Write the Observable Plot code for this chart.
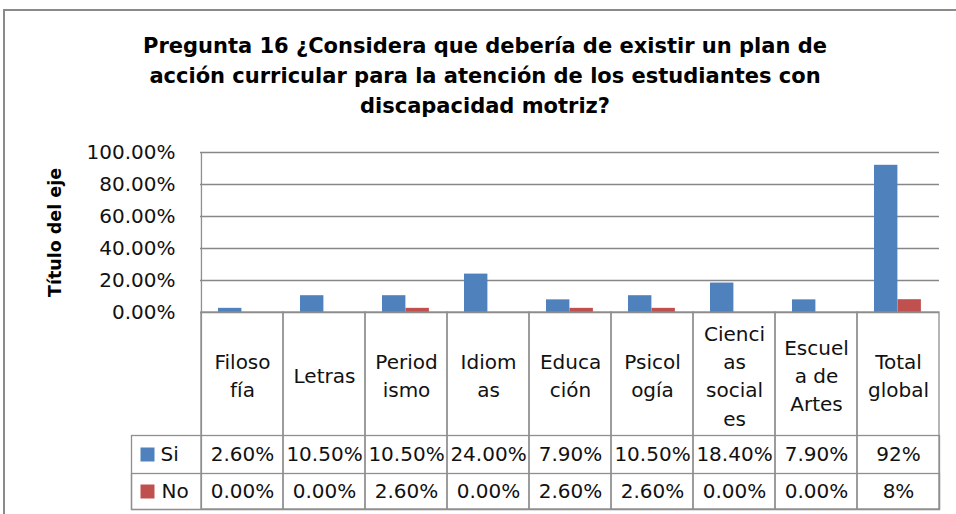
<!DOCTYPE html>
<html>
<head>
<meta charset="utf-8">
<script src="https://cdn.jsdelivr.net/npm/d3@7"></script>
<script src="https://cdn.jsdelivr.net/npm/@observablehq/plot@0.6"></script>
<style>
  html, body { margin: 0; padding: 0; background: #fff; overflow: hidden; width: 956px; height: 514px; }
  #frame { position: absolute; left: 3px; top: 9px; width: 1000px; height: 600px; border: 2px solid #8a8a8a; box-sizing: border-box; }
  #title { position: absolute; left: 0; top: 31px; width: 970px; text-align: center; font-family: "DejaVu Sans", sans-serif; font-weight: bold; font-size: 21px; line-height: 30px; color: #000; }
  #chart { position: absolute; left: 0; top: 140px; }
</style>
</head>
<body>
<div id="frame"></div>
<div id="title">Pregunta 16 ¿Considera que debería de existir un plan de<br>acción curricular para la atención de los estudiantes con<br>discapacidad motriz?</div>
<div id="chart"></div>
<script>
// ---- data ----
const categories = ["Filosofía", "Letras", "Periodismo", "Idiomas", "Educación", "Psicología", "Ciencias sociales", "Escuela de Artes", "Total global"];
const headerLabels = ["Filoso\nfía", "Letras", "Period\nismo", "Idiom\nas", "Educa\nción", "Psicol\nogía", "Cienci\nas\nsocial\nes", "Escuel\na de\nArtes", "Total\nglobal"];
const series = ["Si", "No"];
const siValues = [0.026, 0.105, 0.105, 0.24, 0.079, 0.105, 0.184, 0.079, 0.92];
const noValues = [0.0, 0.0, 0.026, 0.0, 0.026, 0.026, 0.0, 0.0, 0.08];
const siLabels = ["2.60%", "10.50%", "10.50%", "24.00%", "7.90%", "10.50%", "18.40%", "7.90%", "92%"];
const noLabels = ["0.00%", "0.00%", "2.60%", "0.00%", "2.60%", "2.60%", "0.00%", "0.00%", "8%"];
const yTicks = [0, 0.2, 0.4, 0.6, 0.8, 1.0];
const yTitle = "Título del eje";

const rows = categories.map((c, i) => ({
  category: c, label: headerLabels[i], si: siValues[i], no: noValues[i],
  siLabel: siLabels[i], noLabel: noLabels[i]
}));

// ---- layout ----
const W = 956, H = 374, mL = 200, mR = 17, mT = 12, mB = 202;
const plotH = H - mT - mB;          // 160
const step = (W - mL - mR) / categories.length;
const tableBottom = 197;            // table extends below the frame
const headerH = 123, siRowH = 38;
const barW = 23.5, outer = 17;
const gridColor = "#878787", tableColor = "#8f8f8f";
const blue = "#4F81BD", red = "#C0504D";

const chart = Plot.plot({
  width: W, height: H,
  marginLeft: mL, marginRight: mR, marginTop: mT, marginBottom: mB,
  style: { fontFamily: "DejaVu Sans, sans-serif", fontSize: "20px", color: "#111", background: "transparent", overflow: "visible" },
  x: { domain: categories, padding: 0, axis: null },
  y: { domain: [0, 1], ticks: yTicks, tickFormat: d3.format(".2%"), tickSize: 0, tickPadding: 25, label: null },
  color: { domain: series, range: [blue, red] },
  marks: [
    Plot.ruleY(yTicks, { stroke: gridColor, strokeWidth: 1.3 }),
    Plot.barY(rows, { x: "category", y: "si", fill: () => "Si", insetLeft: outer, insetRight: step - outer - barW }),
    Plot.barY(rows, { x: "category", y: "no", fill: () => "No", insetLeft: outer + barW, insetRight: step - outer - 2 * barW }),
    // table columns
    Plot.cell(rows, { x: "category", fill: "none", stroke: tableColor, strokeWidth: 1.3, insetTop: plotH, insetBottom: -tableBottom }),
    Plot.frame({ stroke: tableColor, strokeWidth: 1.3, insetLeft: -69, insetTop: plotH + headerH, insetBottom: -tableBottom }),
    Plot.frame({ stroke: tableColor, strokeWidth: 1.3, insetLeft: -69, insetTop: plotH + headerH + siRowH, insetBottom: -tableBottom }),
    Plot.ruleX([categories[0]], { x: d => d, dx: -step / 2, stroke: tableColor, strokeWidth: 1.3, insetBottom: -tableBottom }),
    // table text
    Plot.text(rows, { x: "category", text: "label", frameAnchor: "bottom", lineAnchor: "middle", dy: headerH / 2, lineHeight: 1.42 }),
    Plot.text(rows, { x: "category", text: "siLabel", frameAnchor: "bottom", lineAnchor: "middle", dy: headerH + siRowH / 2 }),
    Plot.text(rows, { x: "category", text: "noLabel", frameAnchor: "bottom", lineAnchor: "middle", dy: headerH + siRowH + 18 }),
    // legend keys in table
    Plot.dot([series[0]], { frameAnchor: "bottom-left", dx: -53, dy: headerH + siRowH / 2, symbol: "square", r: 7.9, fill: d => d }),
    Plot.dot([series[1]], { frameAnchor: "bottom-left", dx: -53, dy: headerH + siRowH + 18, symbol: "square", r: 7.9, fill: d => d }),
    Plot.text([series[0]], { text: d => d, frameAnchor: "bottom-left", dx: -40, dy: headerH + siRowH / 2, textAnchor: "start", lineAnchor: "middle" }),
    Plot.text([series[1]], { text: d => d, frameAnchor: "bottom-left", dx: -39, dy: headerH + siRowH + 18, textAnchor: "start", lineAnchor: "middle" }),
    // y-axis title
    Plot.text([yTitle], { text: d => d, frameAnchor: "left", rotate: -90, dx: -145, textAnchor: "middle", lineAnchor: "middle", fontWeight: "bold", fontSize: 17.5, fill: "#000" })
  ]
});
document.getElementById("chart").appendChild(chart);
</script>
</body>
</html>
